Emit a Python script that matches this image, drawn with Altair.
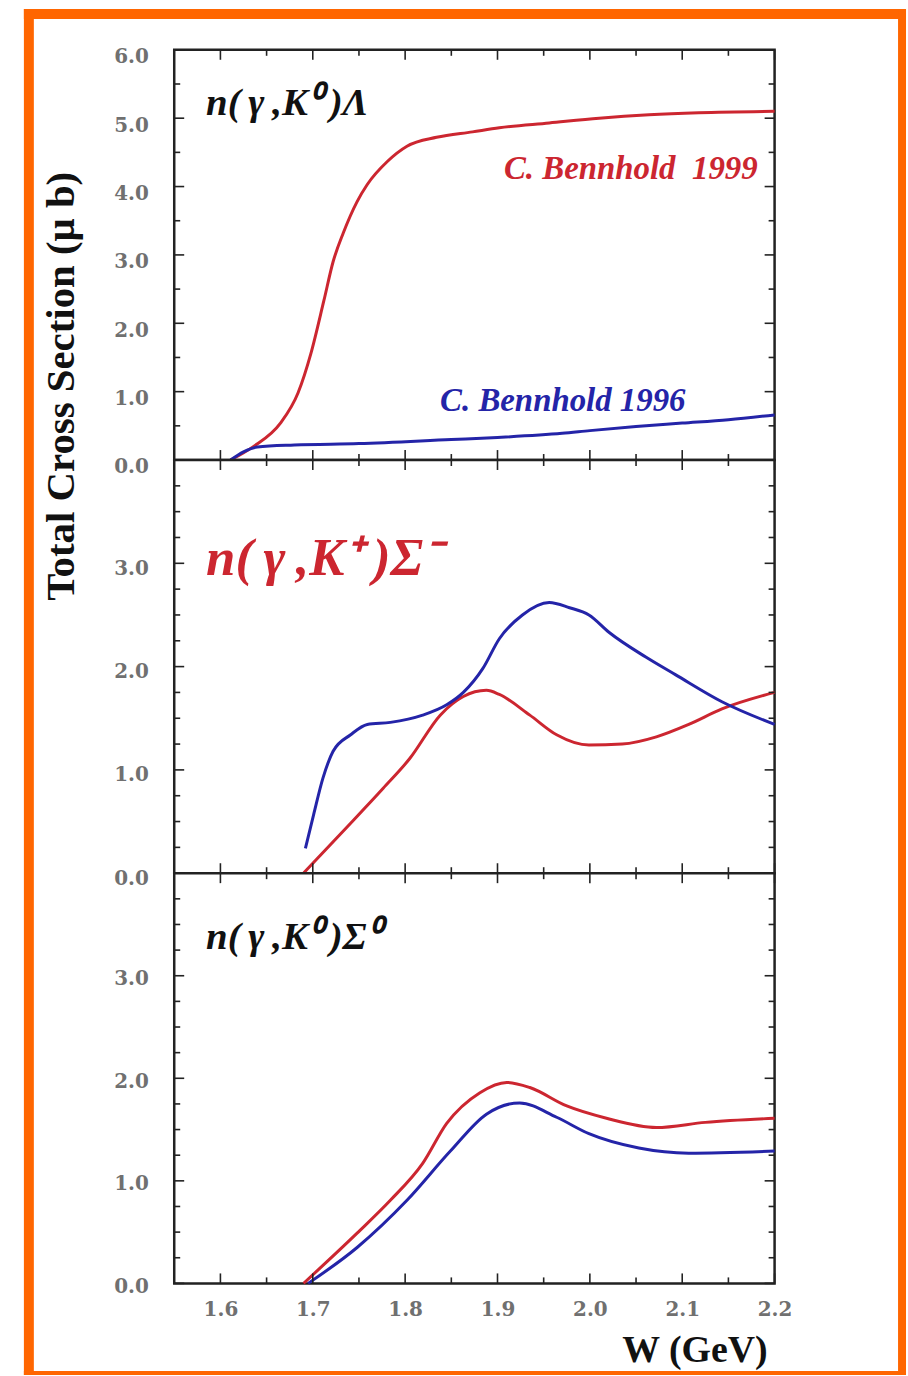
import altair as alt
import pandas as pd

# ---------------- data ----------------
# Panel 1: n(gamma,K0)Lambda
p1_red_w = [1.611, 1.636, 1.665, 1.684, 1.698, 1.712, 1.722, 1.733, 1.748, 1.759,
            1.781, 1.802, 1.834, 1.873, 1.902, 1.956, 2.01, 2.064, 2.118, 2.2]
p1_red_v = [0.0, 0.2, 0.54, 0.98, 1.56, 2.33, 2.9, 3.32, 3.78, 4.03,
            4.37, 4.59, 4.72, 4.8, 4.86, 4.93, 5.0, 5.05, 5.08, 5.1]
p1_blue_w = [1.611, 1.625, 1.64, 1.68, 1.75, 1.85, 1.9, 1.97, 2.0, 2.05, 2.1, 2.15, 2.2]
p1_blue_v = [0.0, 0.12, 0.19, 0.22, 0.24, 0.3, 0.33, 0.39, 0.43, 0.49, 0.54, 0.59, 0.66]

# Panel 2: n(gamma,K+)Sigma-
p2_blue_w = [1.692, 1.701, 1.711, 1.722, 1.741, 1.759, 1.784, 1.819, 1.845, 1.863, 1.884,
             1.902, 1.927, 1.956, 1.978, 1.999, 2.021, 2.061, 2.093, 2.143, 2.2]
p2_blue_v = [0.24, 0.57, 0.92, 1.18, 1.34, 1.44, 1.46, 1.53, 1.63, 1.75, 1.98,
             2.27, 2.5, 2.62, 2.57, 2.5, 2.33, 2.09, 1.92, 1.66, 1.44]
p2_red_w = [1.69, 1.73, 1.776, 1.805, 1.838, 1.863, 1.888, 1.902, 1.935, 1.964,
            1.999, 2.035, 2.072, 2.107, 2.143, 2.2]
p2_red_v = [0.0, 0.38, 0.82, 1.11, 1.53, 1.71, 1.77, 1.73, 1.53, 1.34,
            1.24, 1.25, 1.32, 1.44, 1.59, 1.75]

# Panel 3: n(gamma,K0)Sigma0
p3_red_w = [1.69, 1.748, 1.784, 1.819, 1.845, 1.881, 1.91, 1.935, 1.975, 2.018, 2.072, 2.125, 2.2]
p3_red_v = [0.0, 0.49, 0.81, 1.17, 1.56, 1.86, 1.96, 1.91, 1.73, 1.61, 1.52, 1.57, 1.61]
p3_blue_w = [1.695, 1.748, 1.802, 1.849, 1.888, 1.924, 1.964, 1.999, 2.053, 2.107, 2.2]
p3_blue_v = [0.0, 0.35, 0.81, 1.29, 1.65, 1.76, 1.62, 1.46, 1.32, 1.27, 1.29]

# ticks / labels
x_major = [1.6, 1.7, 1.8, 1.9, 2.0, 2.1, 2.2]
x_minor = [1.55, 1.65, 1.75, 1.85, 1.95, 2.05, 2.15]
p1_y_major = [0, 1, 2, 3, 4, 5, 6]
p1_y_minor = [0.5, 1.5, 2.5, 3.5, 4.5, 5.5]
p1_y_labels = [0, 1, 2, 3, 4, 5, 6]
p23_y_major = [0, 1, 2, 3, 4]
p23_y_minor = [0.25, 0.5, 0.75, 1.25, 1.5, 1.75, 2.25, 2.5, 2.75, 3.25, 3.5, 3.75]
p23_y_labels = [0, 1, 2, 3]

title_1 = "n(\u2009γ\u2009,K⁰\u2009)Λ"
title_2 = "n(\u2009γ\u2009,K⁺\u2009)Σ⁻"
title_3 = "n(\u2009γ\u2009,K⁰\u2009)Σ⁰"
label_1999 = "C. Bennhold\u00a0\u00a01999"
label_1996 = "C. Bennhold 1996"
y_title = "Total Cross Section (μ b)"
x_title = "W (GeV)"

# ---------------- styling ----------------
RED = "#cc2630"
BLUE = "#2424a8"
ORANGE = "#ff6600"
WIDTH = 603
SERIF = "Liberation Serif"
TICKFONT = "DejaVu Serif"
TICKCOLOR = "#707070"
MAJ = 10
MIN = 6


def text_layer(txt, x, y, size, color, align="left", style="italic", angle=0, baseline="alphabetic"):
    return alt.Chart(pd.DataFrame({"t": [txt]})).mark_text(
        font=SERIF, fontSize=size, fontWeight="bold", fontStyle=style, color=color,
        align=align, baseline=baseline, angle=angle
    ).encode(text="t:N", x=alt.value(x), y=alt.value(y))


def bar(x1, x2, y1, y2):
    return alt.Chart(pd.DataFrame({"b": [0]})).mark_rect(fill=ORANGE).encode(
        x=alt.value(x1), x2=alt.value(x2), y=alt.value(y1), y2=alt.value(y2))


def panel(series, ymax, height, ymaj, ymin, ylabels, show_x, label_offset, extras):
    if show_x:
        xaxis = alt.Axis(values=x_major, format=".1f", ticks=False, tickSize=0, domain=False,
                         grid=False, labelPadding=16, labelFont=TICKFONT, labelFontWeight="bold",
                         labelFontSize=20, labelColor=TICKCOLOR, labelFlush=False,
                         labelOverlap=False, title="")
    else:
        xaxis = None
    xenc = alt.X("W:Q", scale=alt.Scale(domain=[1.55, 2.2], nice=False, zero=False), axis=xaxis)
    yaxis = alt.Axis(values=ylabels, format=".1f", ticks=False, tickSize=0, domain=False,
                     grid=False, labelPadding=26, labelOffset=label_offset, labelFont=TICKFONT,
                     labelFontWeight="bold", labelFontSize=20, labelColor=TICKCOLOR,
                     labelOverlap=False, labelFlush=False, title="")
    yenc = alt.Y("V:Q", scale=alt.Scale(domain=[0, ymax], nice=False), axis=yaxis)

    layers = []
    for w, v, c in series:
        layers.append(
            alt.Chart(pd.DataFrame({"W": w, "V": v})).mark_line(
                color=c, strokeWidth=3, interpolate="monotone"
            ).encode(x=xenc, y=yenc)
        )
    # ticks on all four sides, pointing inward
    for vals, ln in ((ymaj, MAJ), (ymin, MIN)):
        d = pd.DataFrame({"V": vals})
        layers.append(alt.Chart(d).mark_rule(color="#222222", strokeWidth=1.6).encode(
            y=yenc, x=alt.value(0), x2=alt.value(ln)))
        layers.append(alt.Chart(d).mark_rule(color="#222222", strokeWidth=1.6).encode(
            y=yenc, x=alt.value(WIDTH), x2=alt.value(WIDTH - ln)))
    for vals, ln in ((x_major, MAJ), (x_minor, MIN)):
        d = pd.DataFrame({"W": vals})
        layers.append(alt.Chart(d).mark_rule(color="#222222", strokeWidth=1.6).encode(
            x=xenc, y=alt.value(height), y2=alt.value(height - ln)))
        layers.append(alt.Chart(d).mark_rule(color="#222222", strokeWidth=1.6).encode(
            x=xenc, y=alt.value(0), y2=alt.value(ln)))
    layers.extend(extras)
    return alt.layer(*layers).properties(width=WIDTH, height=height)


# orange frame around the whole figure (left, top, right, bottom)
frame = [
    bar(-151, -141, -41, 1331),
    bar(-151, 735, -41, -31),
    bar(727, 735, -41, 1331),
    bar(-151, 735, 1327, 1331),
]

p1 = panel(
    [(p1_red_w, p1_red_v, RED), (p1_blue_w, p1_blue_v, BLUE)],
    6, 412, p1_y_major, p1_y_minor, p1_y_labels, False, 7,
    [
        text_layer(title_1, 32, 65, 39, "#111111"),
        text_layer(label_1999, 586, 130, 33, RED, align="right"),
        text_layer(label_1996, 267, 363, 33, BLUE),
        text_layer(y_title, -113, 338, 41, "#111111", align="center", style="normal",
                   angle=270, baseline="middle"),
    ] + frame,
)

p2 = panel(
    [(p2_red_w, p2_red_v, RED), (p2_blue_w, p2_blue_v, BLUE)],
    4, 415, p23_y_major, p23_y_minor, p23_y_labels, False, 5,
    [text_layer(title_2, 32, 115, 53, RED)],
)

p3 = panel(
    [(p3_red_w, p3_red_v, RED), (p3_blue_w, p3_blue_v, BLUE)],
    4, 412, p23_y_major, p23_y_minor, p23_y_labels, True, 3,
    [
        text_layer(title_3, 32, 76, 39, "#111111"),
        text_layer(x_title, 596, 491, 38, "#111111", align="right", style="normal"),
    ],
)

chart = alt.vconcat(p1, p2, p3, spacing=0, bounds="flush").properties(
    padding={"left": 22, "top": 4, "right": 0, "bottom": 0},
    background="white",
).configure_view(stroke="#222222", strokeWidth=2.5, fill="white")

chart.save("out.html", embed_options={"renderer": "svg", "actions": False})
